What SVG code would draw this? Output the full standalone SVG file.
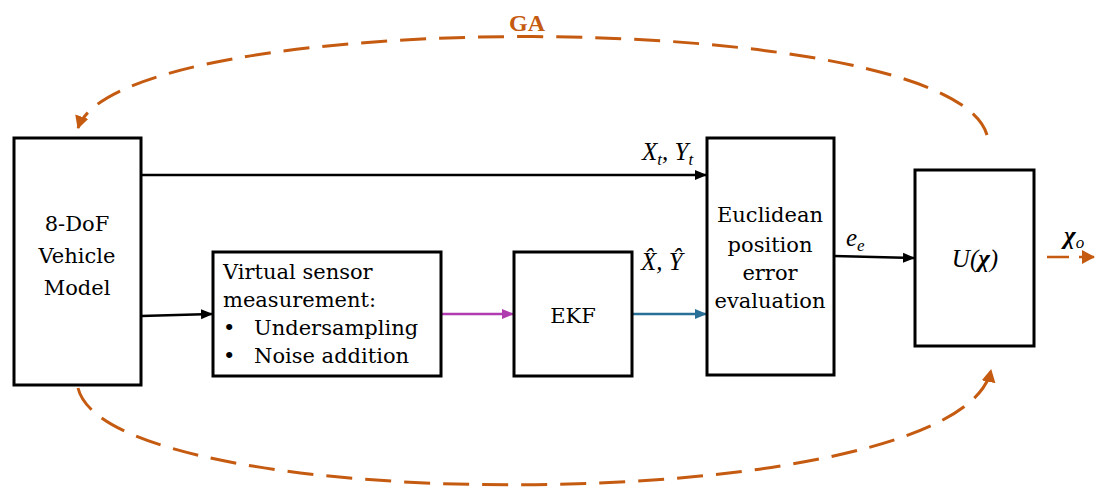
<svg xmlns="http://www.w3.org/2000/svg" width="1099" height="494" viewBox="0 0 1099 494">
<style>
.box{fill:#fff;stroke:#000;stroke-width:3}
.t{font-family:"DejaVu Serif","Liberation Serif",serif;font-size:21px;fill:#000}
.m{font-family:"Liberation Serif","DejaVu Serif",serif;font-style:italic;font-size:25px;fill:#000}
.s{font-size:17px}
.ga{fill:none;stroke:#C55A11;stroke-width:3;stroke-dasharray:26 13}
.c{fill:none;stroke-width:2.5}
</style>
<defs>
<marker id="ab" markerWidth="12" markerHeight="12" refX="11" refY="6" orient="auto" markerUnits="userSpaceOnUse"><path d="M0,1 L12,6 L0,11 z" fill="#000"/></marker>
<marker id="am" markerWidth="12" markerHeight="12" refX="11" refY="6" orient="auto" markerUnits="userSpaceOnUse"><path d="M0,1 L12,6 L0,11 z" fill="#B03CB0"/></marker>
<marker id="at" markerWidth="12" markerHeight="12" refX="11" refY="6" orient="auto" markerUnits="userSpaceOnUse"><path d="M0,1 L12,6 L0,11 z" fill="#2A6F97"/></marker>
<marker id="ao" markerWidth="14" markerHeight="14" refX="12" refY="7" orient="auto" markerUnits="userSpaceOnUse"><path d="M0,0 L13,7 L0,14 z" fill="#C55A11"/></marker>
</defs>
<g id="connectors">
<path class="c" stroke="#000" d="M141,175 L706,175" marker-end="url(#ab)"/>
<path class="c" stroke="#000" d="M141,316 L212,314" marker-end="url(#ab)"/>
<path class="c" stroke="#B03CB0" d="M441,314 L513,314" marker-end="url(#am)"/>
<path class="c" stroke="#2A6F97" d="M632,314 L706,314" marker-end="url(#at)"/>
<path class="c" stroke="#000" d="M834,256 L914,258" marker-end="url(#ab)"/>
<path class="c" stroke="#C55A11" stroke-width="3" stroke-dasharray="22 10" d="M1047,257 L1094,257" marker-end="url(#ao)"/>
<path class="ga" d="M987,135 C950,5 120,5 78,128" marker-end="url(#ao)"/>
<path class="ga" d="M78,388 C110,520 960,520 991,370" marker-end="url(#ao)"/>
<text x="527" y="31" text-anchor="middle" font-family="Liberation Serif,serif" font-weight="bold" font-size="24" fill="#C55A11">GA</text>
<text class="m" x="642" y="160">X<tspan class="s" dy="5">t</tspan><tspan dy="-5">, Y</tspan><tspan class="s" dy="5">t</tspan></text>
<text class="m" x="641" y="270">X̂, Ŷ</text>
<text class="m" x="846" y="246">e<tspan class="s" dy="5">e</tspan></text>
<text class="m" x="1064" y="244" font-weight="bold">χ<tspan class="s" font-weight="normal" dy="4">o</tspan></text>
</g>
<g id="vehicle">
<rect class="box" x="14" y="138" width="127" height="247"/>
<text class="t" x="77" y="231" text-anchor="middle">8-DoF</text>
<text class="t" x="77" y="263" text-anchor="middle">Vehicle</text>
<text class="t" x="77" y="295" text-anchor="middle">Model</text>
</g>
<g id="sensor">
<rect class="box" x="213" y="252" width="228" height="124"/>
<text class="t" x="223" y="279">Virtual sensor</text>
<text class="t" x="223" y="307">measurement:</text>
<text class="t" x="223" y="335">•</text>
<text class="t" x="254" y="335">Undersampling</text>
<text class="t" x="223" y="363">•</text>
<text class="t" x="254" y="363">Noise addition</text>
</g>
<g id="ekf">
<rect class="box" x="514" y="252" width="118" height="124"/>
<text class="t" x="573" y="323" text-anchor="middle">EKF</text>
</g>
<g id="euclid">
<rect class="box" x="707" y="138" width="127" height="237"/>
<text class="t" x="770" y="222" text-anchor="middle">Euclidean</text>
<text class="t" x="770" y="252" text-anchor="middle">position</text>
<text class="t" x="770" y="280" text-anchor="middle">error</text>
<text class="t" x="770" y="308" text-anchor="middle">evaluation</text>
</g>
<g id="utility">
<rect class="box" x="915" y="170" width="119" height="176"/>
<text class="m" x="975" y="267" text-anchor="middle" font-size="27">U(<tspan font-weight="bold">χ</tspan>)</text>
</g>
</svg>
